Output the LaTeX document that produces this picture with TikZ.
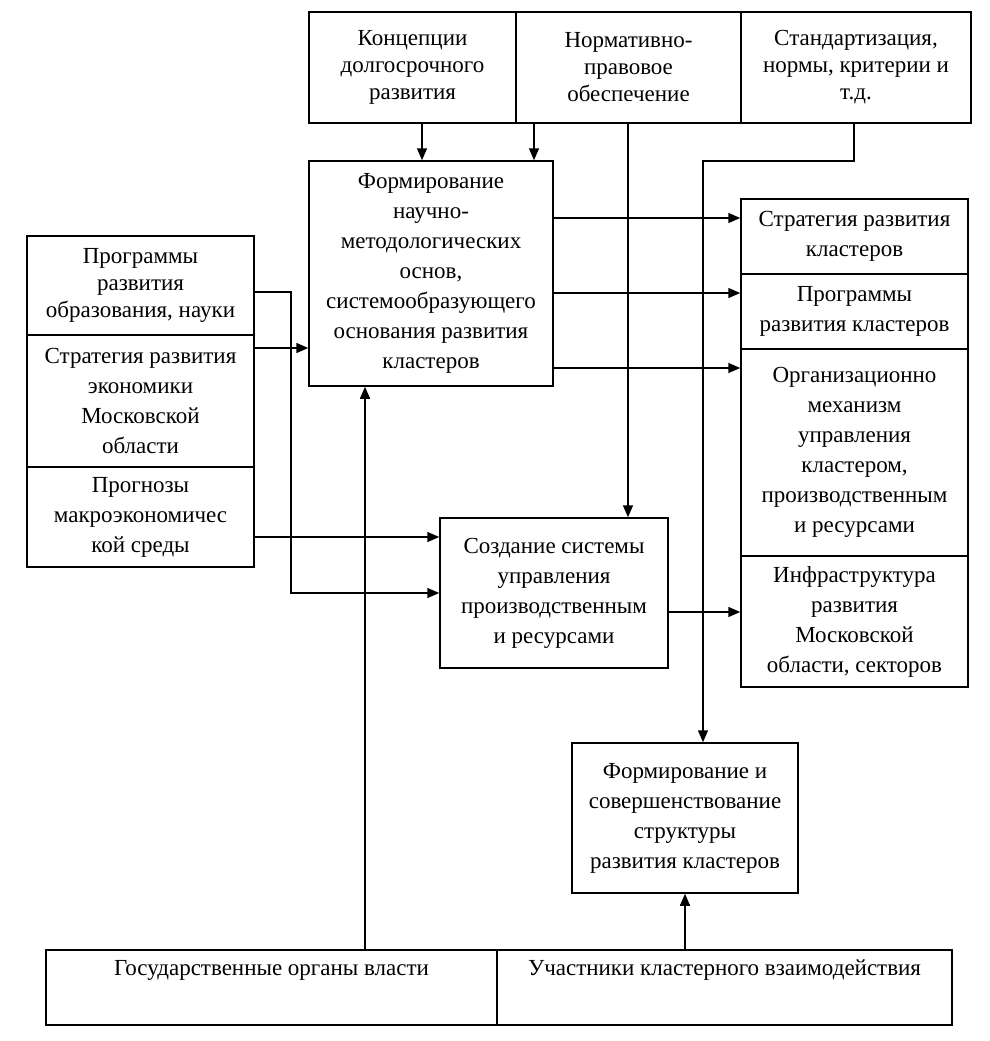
\documentclass[tikz,border=0pt]{standalone}
\usepackage{fontspec}
\setmainfont{Liberation Serif}
\usetikzlibrary{arrows.meta,calc}
\newcommand{\fs}{\fontsize{23}{30}\selectfont}
\newcommand{\fst}{\fontsize{23}{27}\selectfont}
\tikzset{
  box/.style={draw, line width=1.5pt, align=center, inner sep=0pt, font=\fs},
  tbox/.style={box, font=\fst},
  arr/.style={line width=1.5pt, -{Triangle[length=12pt,width=10pt]}},
}
\begin{document}
\begin{tikzpicture}[x=1pt,y=-1pt]
\useasboundingbox (0,0) rectangle (990,1041);
% top row
\node[tbox, minimum width=207, minimum height=111] (top1) at (412.5,67.5) {Концепции\\долгосрочного\\развития};
\node[tbox, minimum width=225, minimum height=111] (top2) at (628.5,67.5) {Нормативно-\\правовое\\обеспечение};
\node[tbox, minimum width=230, minimum height=111] (top3) at (856,67.5) {Стандартизация,\\нормы, критерии и\\т.д.};
% main
\node[box, minimum width=244, minimum height=225] (main) at (431,273.5) {Формирование\\научно-\\методологических\\основ,\\системообразующего\\основания развития\\кластеров};
% left column
\node[tbox, minimum width=227, minimum height=99] (l1) at (140.5,285.5) {Программы\\развития\\образования, науки};
\node[box, minimum width=227, minimum height=132] (l2) at (140.5,401) {Стратегия развития\\экономики\\Московской\\области};
\node[box, minimum width=227, minimum height=100] (l3) at (140.5,517) {Прогнозы\\макроэкономичес\\кой среды};
% right column
\node[box, minimum width=227, minimum height=75] (r1) at (854.5,236.5) {Стратегия развития\\кластеров};
\node[box, minimum width=227, minimum height=75] (r2) at (854.5,311.5) {Программы\\развития кластеров};
\node[box, minimum width=227, minimum height=207] (r3) at (854.5,452.5) {Организационно\\механизм\\управления\\кластером,\\производственным\\и ресурсами};
\node[box, minimum width=227, minimum height=131] (r4) at (854.5,621.5) {Инфраструктура\\развития\\Московской\\области, секторов};
% middle
\node[box, minimum width=228, minimum height=150] (sozd) at (554,593) {Создание системы\\управления\\производственным\\и ресурсами};
\node[box, minimum width=226, minimum height=150] (form2) at (685,818) {Формирование и\\совершенствование\\структуры\\развития кластеров};
% bottom
\node[box, minimum width=451, minimum height=75] (gov) at (271.5,987.5) {Государственные органы власти\\\strut};
\node[box, minimum width=455, minimum height=75] (part) at (724.5,987.5) {Участники кластерного взаимодействия\\\strut};
% connectors
\draw[arr] ([xshift=9.5]top1.south) -- ([xshift=9.5]top1.south |- main.north);
\draw[arr] ([xshift=-94.5]top2.south) -- ([xshift=-94.5]top2.south |- main.north);
\draw[arr] ([xshift=-0.5]top2.south) -- ([xshift=-0.5]top2.south |- sozd.north);
\coordinate (c3) at (703,161);
\draw[arr] ([xshift=-2]top3.south) |- (c3) -- (c3 |- form2.north);
\draw[arr] ([yshift=18.5]r1.west -| main.east) -- ([yshift=18.5]r1.west);
\draw[arr] ([yshift=18.5]r2.west -| main.east) -- ([yshift=18.5]r2.west);
\draw[arr] ([yshift=84.5]r3.west -| main.east) -- ([yshift=84.5]r3.west);
\draw[arr] ([yshift=-19]sozd.east) -- ([yshift=-19]sozd.east -| r4.west);
\coordinate (c1) at (291,593);
\draw[arr] ([yshift=-6.5]l1.east) -| (c1) -- (sozd.west);
\draw[arr] ([yshift=53]l2.east) -- ([yshift=53]l2.east -| main.west);
\draw[arr] ([yshift=-20]l3.east) -- ([yshift=-20]l3.east -| sozd.west);
\draw[arr] ([xshift=-66]main.south |- gov.north) -- ([xshift=-66]main.south);
\draw[arr] (form2.south |- part.north) -- (form2.south);
\end{tikzpicture}
\end{document}
